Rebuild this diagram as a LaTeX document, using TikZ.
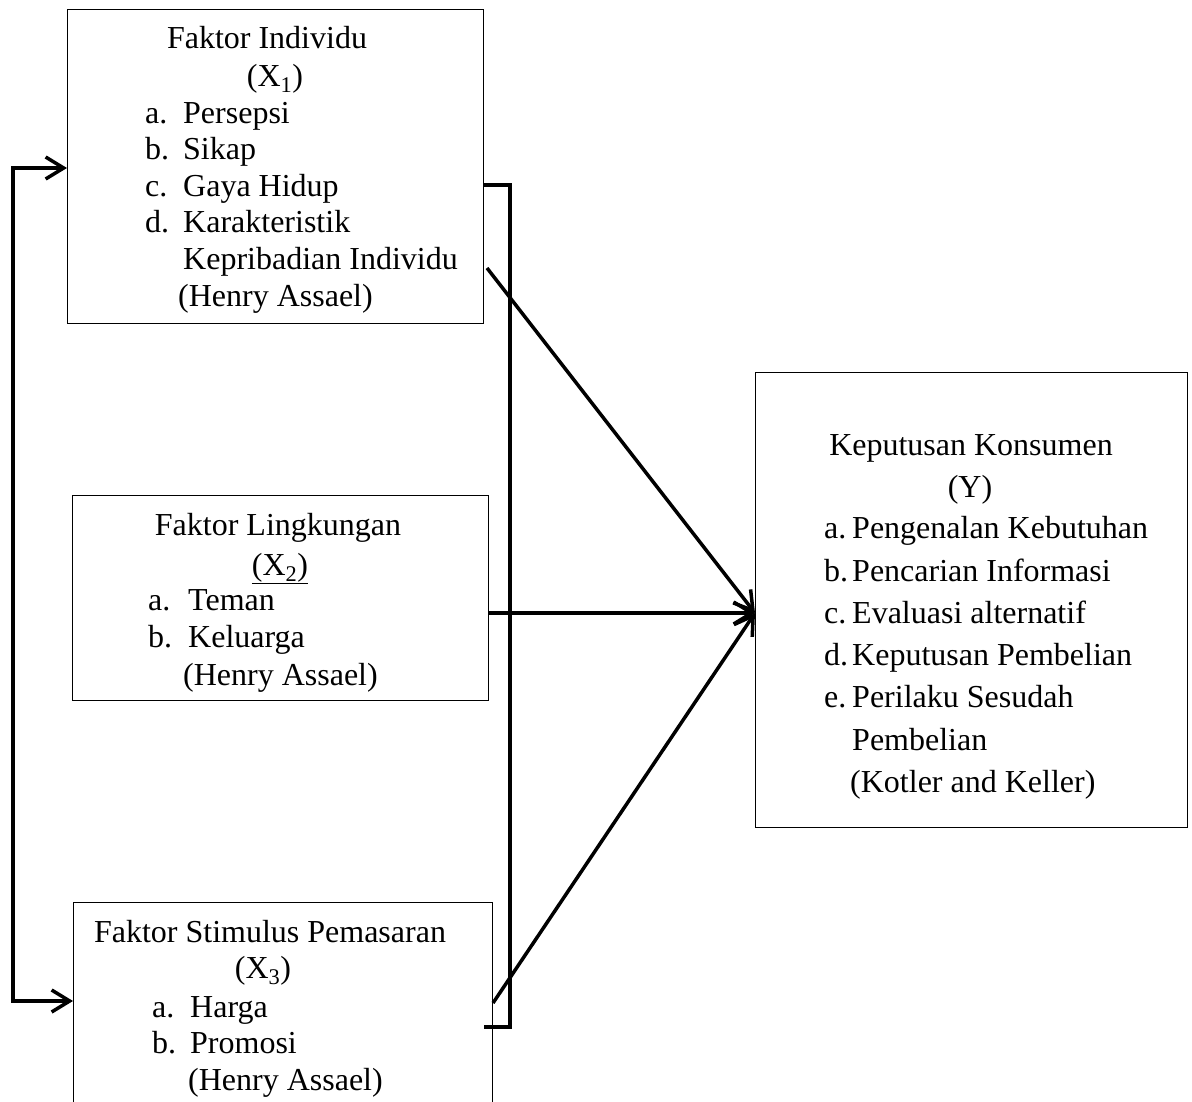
\documentclass[tikz,border=0pt]{standalone}
\usepackage{fontspec}
\setmainfont{Liberation Serif}
\usepackage{tikz}
\usetikzlibrary{
	arrows.meta,
	positioning
}

\begin{document}
\begin{tikzpicture}[x=1pt, y=-1pt,
		box/.style={draw, line width=1.4pt, anchor=north west, inner sep=0pt},
		txt/.style={anchor=base west, inner sep=0pt, font=\fontsize{32}{37}\selectfont},
		ttl/.style={anchor=base, inner sep=0pt, font=\fontsize{32}{37}\selectfont},
		conn/.style={line width=3.5pt},
		tip/.style={-{Straight Barb[length=18pt, width=22pt, line width=3.5pt]}}
	]
				\useasboundingbox (0, 0) rectangle (1192, 1101) ;

				\node[box, minimum width=416pt, minimum height=314pt] (indiv) at (67, 9) {} ;
				\node[box, minimum width=416pt, minimum height=205pt] (lingk) at (72, 495) {} ;
				\node[box, minimum width=419pt, minimum height=206pt] (stim) at (73, 902) {} ;
				\node[box, minimum width=432pt, minimum height=455pt] (kep) at (755, 372) {} ;

				\node[ttl] (indivT) at (267, 48) {Faktor Individu} ;
				\node[ttl] (indivX) at (275, 86) {(X\textsubscript{1})} ;
				\node[txt] (indivA) at (145, 123) {a.} ;
				\node[txt] (indivAt) at (183, 123) {Persepsi} ;
				\node[txt] (indivB) at (145, 159) {b.} ;
				\node[txt] (indivBt) at (183, 159) {Sikap} ;
				\node[txt] (indivC) at (145, 196) {c.} ;
				\node[txt] (indivCt) at (183, 196) {Gaya Hidup} ;
				\node[txt] (indivD) at (145, 232) {d.} ;
				\node[txt] (indivDt) at (183, 232) {Karakteristik} ;
				\node[txt] (indivDu) at (183, 269) {Kepribadian Individu} ;
				\node[txt] (indivS) at (178, 306) {(Henry Assael)} ;

				\node[ttl] (lingkT) at (278, 535) {Faktor Lingkungan} ;
				\node[ttl] (lingkX) at (280, 575) {\underline{(X\textsubscript{2})}} ;
				\node[txt] (lingkA) at (148, 610) {a.} ;
				\node[txt] (lingkAt) at (188, 610) {Teman} ;
				\node[txt] (lingkB) at (148, 647) {b.} ;
				\node[txt] (lingkBt) at (188, 647) {Keluarga} ;
				\node[txt] (lingkS) at (183, 685) {(Henry Assael)} ;

				\node[ttl] (stimT) at (270, 942) {Faktor Stimulus Pemasaran} ;
				\node[ttl] (stimX) at (263, 978) {(X\textsubscript{3})} ;
				\node[txt] (stimA) at (152, 1017) {a.} ;
				\node[txt] (stimAt) at (190, 1017) {Harga} ;
				\node[txt] (stimB) at (152, 1053) {b.} ;
				\node[txt] (stimBt) at (190, 1053) {Promosi} ;
				\node[txt] (stimS) at (188, 1090) {(Henry Assael)} ;

				\node[ttl] (kepT) at (971, 455) {Keputusan Konsumen} ;
				\node[ttl] (kepX) at (970, 497) {(Y)} ;
				\node[txt] (kepA) at (824, 538) {a.} ;
				\node[txt] (kepAt) at (852, 538) {Pengenalan Kebutuhan} ;
				\node[txt] (kepB) at (824, 581) {b.} ;
				\node[txt] (kepBt) at (852, 581) {Pencarian Informasi} ;
				\node[txt] (kepC) at (824, 623) {c.} ;
				\node[txt] (kepCt) at (852, 623) {Evaluasi alternatif} ;
				\node[txt] (kepD) at (824, 665) {d.} ;
				\node[txt] (kepDt) at (852, 665) {Keputusan Pembelian} ;
				\node[txt] (kepE) at (824, 707) {e.} ;
				\node[txt] (kepEt) at (852, 707) {Perilaku Sesudah} ;
				\node[txt] (kepEu) at (852, 750) {Pembelian} ;
				\node[txt] (kepS) at (850, 792) {(Kotler and Keller)} ;

				\coordinate (lt) at (13, 168) ;
				\coordinate (lb) at (13, 1001) ;
				\coordinate (brt) at (510, 185) ;
				\coordinate (brb) at (510, 1027) ;
				\coordinate (s1) at (487, 268) ;
				\coordinate (s3) at (493, 1003) ;
				\coordinate (hit) at (kep.west |- 0, 613) ;

				\draw[conn, {Straight Barb[length=18pt, width=22pt, line width=3.5pt]}-{Straight Barb[length=18pt, width=22pt, line width=3.5pt]}] (indiv.west |- lt) -- (lt) -- (lb) -- (stim.west |- lb) ;
				\draw[conn] (484, 185) -- (brt) -- (brb) -- (484, 1027) ;
				\draw[conn, tip] (s1) -- (hit) ;
				\draw[conn, tip] (lingk.east |- hit) -- (hit) ;
				\draw[conn, tip] (s3) -- (hit) ;
			\end{tikzpicture}
\end{document}
